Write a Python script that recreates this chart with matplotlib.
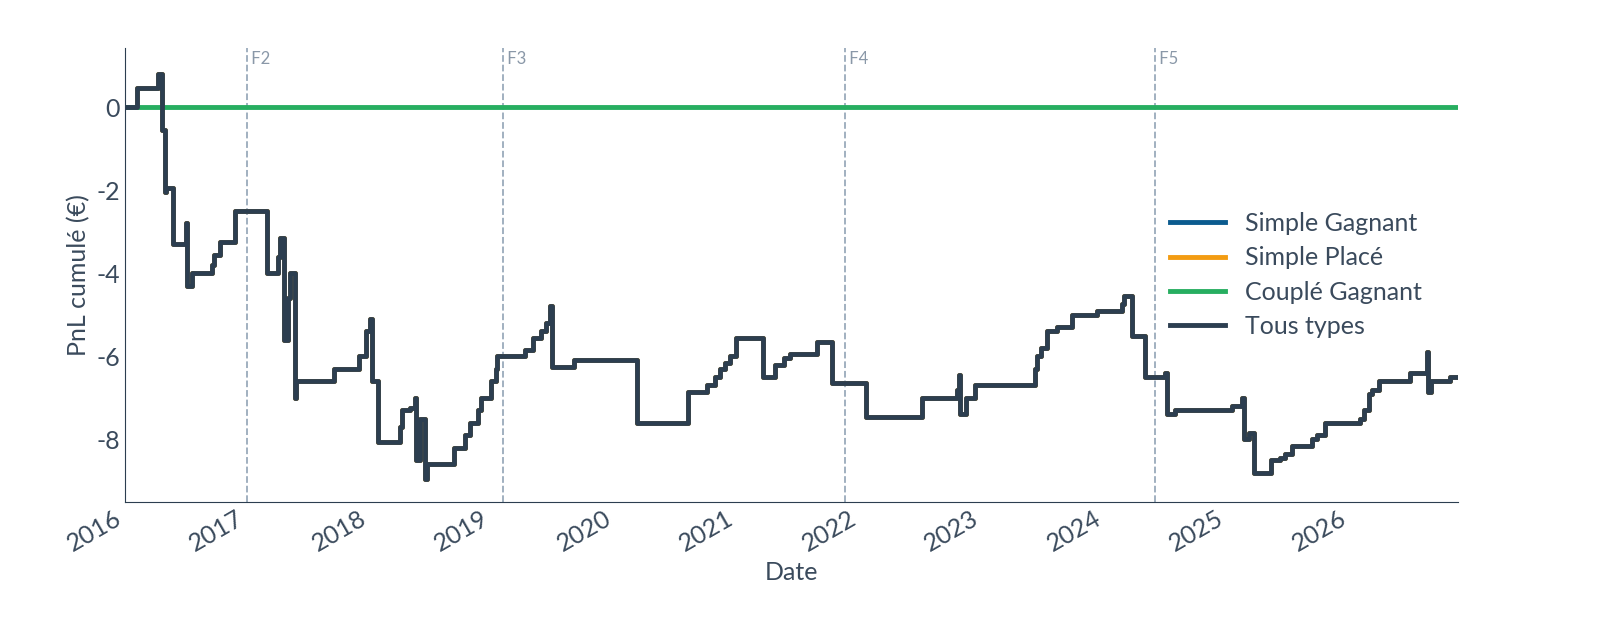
import numpy as np
import pandas as pd
import matplotlib
matplotlib.use("Agg")
import matplotlib.pyplot as plt
import matplotlib.dates as mdates

plt.rcParams['font.family'] = ['Lato', 'DejaVu Sans']
plt.rcParams['axes.unicode_minus'] = False

# Données (année décimale, PnL cumulé en €)
years = [2016.00, 2016.10, 2016.27, 2016.30, 2016.33, 2016.34, 2016.39, 2016.40, 2016.50,
         2016.51, 2016.55, 2016.71, 2016.73, 2016.78, 2016.90, 2017.16, 2017.25, 2017.27,
         2017.30, 2017.33, 2017.35, 2017.39, 2017.40, 2017.71, 2017.91, 2017.97, 2018.00,
         2018.02, 2018.07, 2018.25, 2018.26, 2018.33, 2018.37, 2018.38, 2018.41, 2018.45,
         2018.47, 2018.69, 2018.78, 2018.82, 2018.88, 2018.91, 2018.99, 2019.03, 2019.04,
         2019.27, 2019.33, 2019.40, 2019.44, 2019.47, 2019.49, 2019.67, 2020.18, 2020.60,
         2020.75, 2020.82, 2020.86, 2020.90, 2020.94, 2020.99, 2021.21, 2021.31, 2021.38,
         2021.43, 2021.65, 2021.77, 2022.05, 2022.51, 2022.79, 2022.81, 2022.82, 2022.87,
         2022.94, 2023.43, 2023.45, 2023.48, 2023.53, 2023.61, 2023.73, 2023.94, 2024.14,
         2024.16, 2024.22, 2024.33, 2024.49, 2024.51, 2024.57, 2025.04, 2025.12, 2025.14,
         2025.18, 2025.22, 2025.36, 2025.43, 2025.47, 2025.53, 2025.69, 2025.73, 2025.80,
         2026.08, 2026.12, 2026.16, 2026.18, 2026.24, 2026.49, 2026.63, 2026.64, 2026.66,
         2026.82, 2026.88]
pnl_total = [0.00, 0.45, 0.80, -0.55, -2.05, -1.95, -3.30, -3.30, -2.80, -4.30, -4.00, -3.80,
             -3.55, -3.25, -2.50, -4.00, -3.60, -3.15, -5.60, -4.60, -4.00, -7.00, -6.60,
             -6.30, -6.00, -5.40, -5.10, -6.60, -8.05, -7.70, -7.30, -7.25, -7.00, -8.50,
             -7.50, -8.95, -8.60, -8.20, -7.90, -7.60, -7.30, -7.00, -6.60, -6.30, -6.00,
             -5.85, -5.55, -5.40, -5.20, -4.80, -6.25, -6.10, -7.60, -6.85, -6.70, -6.50,
             -6.30, -6.15, -6.00, -5.55, -6.50, -6.20, -6.05, -5.95, -5.65, -6.65, -7.45,
             -7.00, -6.80, -6.45, -7.40, -7.00, -6.70, -6.30, -6.00, -5.80, -5.40, -5.30,
             -5.00, -4.90, -4.75, -4.55, -5.50, -6.50, -6.40, -7.40, -7.30, -7.20, -7.00,
             -8.00, -7.85, -8.80, -8.50, -8.45, -8.35, -8.15, -8.00, -7.90, -7.60, -7.50,
             -7.30, -6.90, -6.80, -6.60, -6.40, -5.90, -6.85, -6.60, -6.50, -6.50]
pnl_couple = [0.0] * len(years)

phase_labels = ['F2', 'F3', 'F4', 'F5']
phase_years = [2017.00, 2019.09, 2021.88, 2024.41]

series_names = ['Simple Gagnant', 'Simple Placé', 'Couplé Gagnant', 'Tous types']
series_colors = ['#0b5b8f', '#f39c12', '#27ae60', '#2c3e50']


def to_dates(ys):
    return [pd.Timestamp('2016-01-01') + pd.Timedelta(days=(y - 2016) * 365.25) for y in ys]


dates = to_dates(years)
text_color = '#3a4a5c'

fig = plt.figure(figsize=(16, 6.4), dpi=100)
ax = fig.add_axes([0.078, 0.216, 0.833, 0.709])

series_vals = [pnl_total, pnl_total, pnl_couple, pnl_total]
for name, vals, col in zip(series_names, series_vals, series_colors):
    ax.step(dates, vals, where='post', color=col, lw=3.5, label=name)

for lab, y in zip(phase_labels, to_dates(phase_years)):
    ax.axvline(y, color='#9aaabb', ls='--', lw=1.3, zorder=0)
    ax.text(y, 1.35, ' ' + lab, color='#8a98a8', fontsize=12, va='top', ha='left')

ax.set_xlim(to_dates([2016.0])[0], to_dates([2026.88])[0])
ax.set_ylim(-9.5, 1.42)
ax.set_yticks([0, -2, -4, -6, -8])
ax.xaxis.set_major_locator(mdates.YearLocator())
ax.xaxis.set_major_formatter(mdates.DateFormatter('%Y'))
for lbl in ax.get_xticklabels():
    lbl.set_rotation(30)
    lbl.set_ha('right')

ax.tick_params(colors=text_color, labelsize=18, length=0)
for s in ['top', 'right']:
    ax.spines[s].set_visible(False)
for s in ['left', 'bottom']:
    ax.spines[s].set_color('#2c3e50')
ax.set_xlabel('Date', fontsize=18, color=text_color)
ax.set_ylabel('PnL cumulé (€)', fontsize=18, color=text_color)

leg = ax.legend(loc='center right', bbox_to_anchor=(0.99, 0.5), frameon=False,
                fontsize=18, handlelength=2.2, labelspacing=0.45)
for t in leg.get_texts():
    t.set_color(text_color)

fig.savefig('out.png', dpi=100)
